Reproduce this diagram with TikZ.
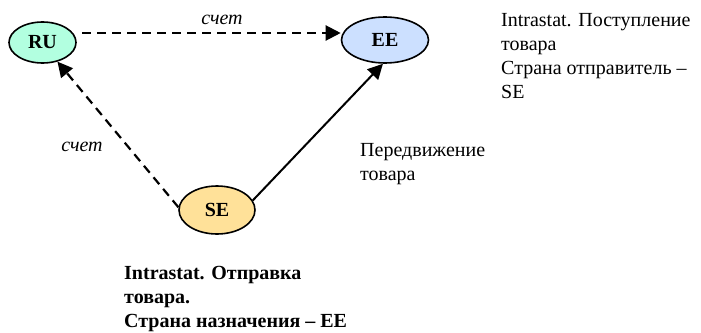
\documentclass[tikz,border=0pt]{standalone}
\usepackage{fontspec}
\setmainfont{Liberation Serif}
\usetikzlibrary{arrows.meta,shapes.geometric}
\begin{document}
\begin{tikzpicture}[x=1pt,y=-1pt,
  country/.style={draw, line width=1.6pt, ellipse, font=\fontsize{20}{20}\selectfont\bfseries, inner sep=0pt},
  dashedarrow/.style={line width=2.2pt, dash pattern=on 9pt off 6pt, -{Triangle[length=15pt,width=15pt]}},
  solidarrow/.style={line width=2pt, -{Triangle[length=15pt,width=15pt]}},
  lbl/.style={font=\fontsize{20}{20}\selectfont\itshape, inner sep=0pt},
  txt/.style={font=\fontsize{20}{24}\selectfont, align=left, anchor=north west, inner sep=0pt}]
\useasboundingbox (0,0) rectangle (701,332);
\node[country, fill={rgb,255:red,178;green,255;blue,224}, minimum width=67pt, minimum height=41pt] (ru) at (42.5,42.5) {RU};
\node[country, fill={rgb,255:red,204;green,224;blue,255}, minimum width=87pt, minimum height=46pt] (ee) at (385,40) {EE};
\node[country, fill={rgb,255:red,255;green,225;blue,153}, minimum width=76pt, minimum height=48pt] (se) at (217,210) {SE};
\coordinate (a) at (82,33);
\draw[dashedarrow] (a) -- (a -| ee.west);
\draw[dashedarrow] (se.176) -- (ru.-52);
\draw[solidarrow] (se.15) -- (ee.-95);
\node[lbl] (l1) at (222,20) {счет};
\node[lbl] (l2) at (82,147) {счет};
\node[txt] (t1) at (501,13.5) {Intrastat. Поступление\\товара\\Страна отправитель –\\SE};
\node[txt] (t2) at (360,143) {Передвижение\\товара};
\node[txt, font=\fontsize{20}{24}\selectfont\bfseries] (t3) at (124,266) {Intrastat. Отправка\\товара.\\Страна назначения – EE};
\end{tikzpicture}
\end{document}
